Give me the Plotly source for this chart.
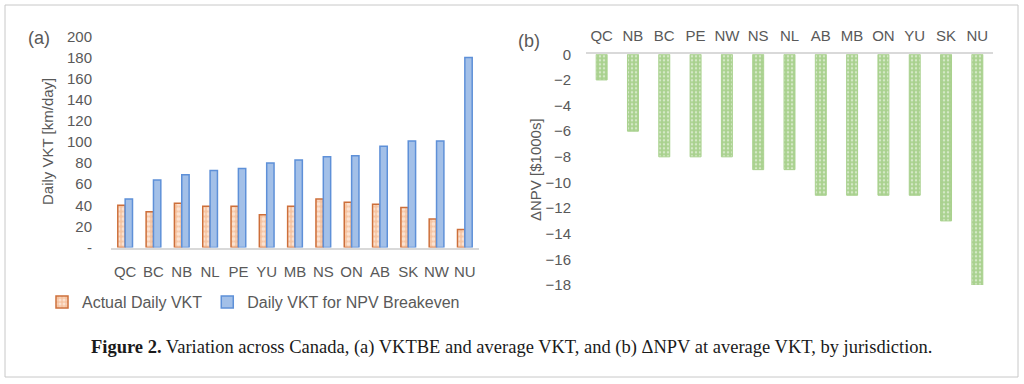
import plotly.graph_objects as go

# ---- Data: panel (a) ----
cats_a = ["QC", "BC", "NB", "NL", "PE", "YU", "MB", "NS", "ON", "AB", "SK", "NW", "NU"]
actual_vkt = [40, 34, 42, 39, 39, 31, 39, 46, 43, 41, 38, 27, 17]
breakeven_vkt = [46, 64, 69, 73, 75, 80, 83, 86, 87, 96, 101, 101, 180]
ticks_a = [0, 20, 40, 60, 80, 100, 120, 140, 160, 180, 200]
ticktext_a = ["-", "20", "40", "60", "80", "100", "120", "140", "160", "180", "200"]

# ---- Data: panel (b) ----
cats_b = ["QC", "NB", "BC", "PE", "NW", "NS", "NL", "AB", "MB", "ON", "YU", "SK", "NU"]
delta_npv = [-2, -6, -8, -8, -8, -9, -9, -11, -11, -11, -11, -13, -18]
ticks_b = [0, -2, -4, -6, -8, -10, -12, -14, -16, -18]

W, H = 1024, 384
GRAY = "#595959"
FONT = "Liberation Sans"

def px_x(x):
    return x / W

def px_y(y):
    return 1 - y / H

fig = go.Figure()

fig.add_trace(go.Bar(
    x=cats_a, y=actual_vkt, name="Actual Daily VKT",
    xaxis="x", yaxis="y",
    marker=dict(color="#F8CBAD", line=dict(color="#CD6F3A", width=1.5),
                pattern=dict(shape=".", fgcolor="white", bgcolor="#F6C4A2",
                             size=5, solidity=0.45, fillmode="overlay")),
))
fig.add_trace(go.Bar(
    x=cats_a, y=breakeven_vkt, name="Daily VKT for NPV Breakeven",
    xaxis="x", yaxis="y",
    marker=dict(color="#A3C0E8", line=dict(color="#5E90D8", width=1.5)),
))
fig.add_trace(go.Bar(
    x=cats_b, y=delta_npv, name="ΔNPV", showlegend=False,
    xaxis="x2", yaxis="y2", width=0.35,
    marker=dict(color="#A9D18E", line=dict(color="#A9D18E", width=1),
                pattern=dict(shape=".", fgcolor="white", bgcolor="#A9D18E",
                             size=4, solidity=0.3, fillmode="overlay")),
))

tickfont = dict(family=FONT, size=15, color=GRAY)

fig.update_layout(
    template="none",
    width=W, height=H,
    margin=dict(l=0, r=0, t=0, b=0, pad=0),
    paper_bgcolor="white", plot_bgcolor="white",
    barmode="group", bargap=0.48, bargroupgap=0,
    font=dict(family=FONT, size=15, color=GRAY),
    xaxis=dict(domain=[px_x(111), px_x(479)], anchor="y", automargin=False,
               showline=True, linecolor="#D9D9D9", linewidth=1.5,
               showgrid=False, zeroline=False, tickfont=tickfont, ticks="",
               ticklabelstandoff=10),
    yaxis=dict(domain=[px_y(247.5), px_y(36.5)], anchor="x", automargin=False,
               range=[0, 200], tickvals=ticks_a, ticktext=ticktext_a,
               showgrid=False, zeroline=False, showline=False,
               tickfont=tickfont, ticks="", ticklabelstandoff=18),
    xaxis2=dict(domain=[px_x(586), px_x(993)], anchor="y2", side="top", automargin=False,
                showline=True, linecolor="#D9D9D9", linewidth=1.5,
                showgrid=False, zeroline=False, tickfont=tickfont, ticks="",
                ticklabelstandoff=6),
    yaxis2=dict(domain=[px_y(285), px_y(54.3)], anchor="x2", automargin=False,
                range=[-18, 0], tickvals=ticks_b,
                showgrid=False, zeroline=False, showline=False,
                tickfont=tickfont, ticks="", ticklabelstandoff=14),
    legend=dict(orientation="h", x=px_x(42), y=px_y(302), xanchor="left", yanchor="middle",
                font=dict(family=FONT, size=16, color=GRAY),
                itemwidth=30, bgcolor="rgba(0,0,0,0)", traceorder="normal"),
    shapes=[dict(type="rect", xref="paper", yref="paper",
                 x0=px_x(5), x1=px_x(1018), y0=px_y(377), y1=px_y(5),
                 line=dict(color="#C8C8C8", width=1), layer="below")],
)

annotations = [
    dict(text="(a)", x=px_x(39), y=px_y(38)),
    dict(text="(b)", x=px_x(529), y=px_y(41)),
    dict(text="Daily VKT [km/day]", x=px_x(47), y=px_y(142), textangle=-90,
         font=dict(family=FONT, size=15, color=GRAY)),
    dict(text="ΔNPV [$1000s]", x=px_x(536), y=px_y(170), textangle=-90,
         font=dict(family=FONT, size=15, color=GRAY)),
    dict(text="<b>Figure 2.</b> Variation across Canada, (a) VKTBE and average VKT, and (b) ΔNPV at average VKT, by jurisdiction.",
         x=px_x(511), y=px_y(347),
         font=dict(family="Liberation Serif", size=18.5, color="#1a1a1a")),
]
for a in annotations:
    a.setdefault("font", dict(family=FONT, size=18, color=GRAY))
    a.update(xref="paper", yref="paper", showarrow=False, xanchor="center", yanchor="middle")
fig.update_layout(annotations=annotations)

fig.write_html("out.html",
               config={"displayModeBar": False},
               post_script="document.body.style.margin='0';document.body.style.overflow='hidden';")
